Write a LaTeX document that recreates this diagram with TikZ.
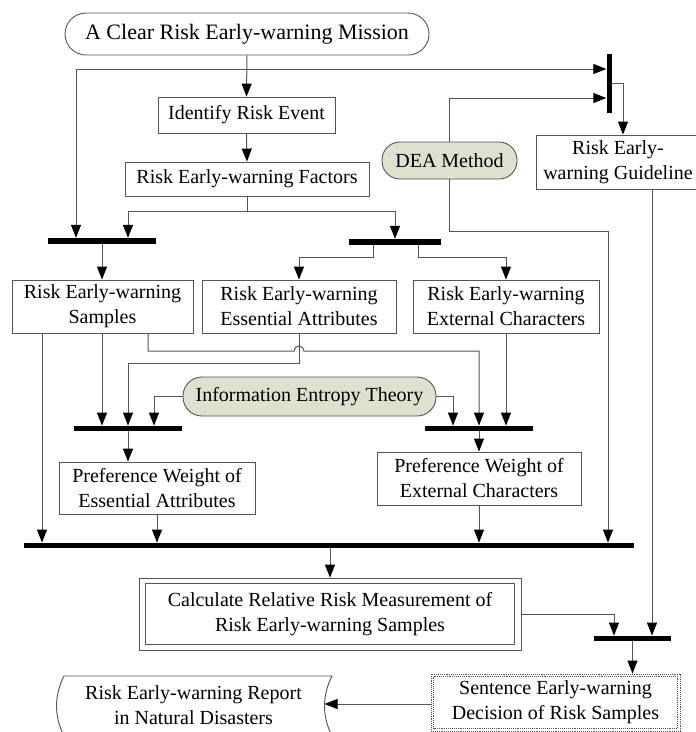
\documentclass[tikz,border=0pt]{standalone}
\usepackage{fontspec}
\setmainfont{Liberation Serif}
\usetikzlibrary{arrows.meta}
\definecolor{sage}{RGB}{221,225,205}
\definecolor{lc}{RGB}{85,85,85}
\begin{document}
\begin{tikzpicture}[x=1pt,y=-1pt,
  txt/.style={font=\fontsize{20}{25}\selectfont, align=center, inner sep=0pt},
  box/.style={txt, draw=lc, line width=0.9pt, fill=white},
  pill/.style={txt, draw=lc, line width=0.9pt, fill=sage},
  bar/.style={fill=black, inner sep=0pt, draw=none},
  ln/.style={draw=lc, line width=1pt},
  arr/.style={ln, -{Triangle[length=13pt,width=10pt,color=black]}}]
\useasboundingbox (0,0) rectangle (696,732);
\clip (0,0) rectangle (696,732);
\fill[white] (0,0) rectangle (696,732);

% nodes
\node[box, font=\fontsize{22}{26}\selectfont, rounded corners=21pt, minimum width=364pt, minimum height=42pt] (title) at (247,34) {A Clear Risk Early-warning Mission};
\node[box, minimum width=177pt, minimum height=36pt] (identify) at (246.5,115) {Identify Risk Event};
\node[box, minimum width=244pt, minimum height=34pt] (factors) at (247,179) {Risk Early-warning Factors};
\node[pill, rounded corners=18pt, minimum width=135pt, minimum height=37pt] (dea) at (449.5,160.5) {DEA Method};
\node[box, minimum width=174pt, minimum height=54pt] (guide) at (623,162) {};
\node[txt] (guidetxt) at (618,162) {Risk Early-\\warning Guideline};
\node[box, minimum width=181pt, minimum height=53pt] (samples) at (102.5,306.5) {Risk Early-warning\\Samples};
\node[box, minimum width=194pt, minimum height=53pt] (ess) at (299,306.5) {Risk Early-warning\\Essential Attributes};
\node[box, minimum width=186pt, minimum height=53pt] (ext) at (506,306.5) {Risk Early-warning\\External Characters};
\node[pill, rounded corners=19pt, minimum width=253pt, minimum height=39pt] (info) at (309.5,396.5) {Information Entropy Theory};
\node[box, minimum width=196pt, minimum height=52pt] (prefE) at (157,488) {Preference Weight of\\Essential Attributes};
\node[box, minimum width=204pt, minimum height=53pt] (prefX) at (479,478.5) {Preference Weight of\\External Characters};
\node[box, minimum width=382pt, minimum height=72pt] (calc) at (330,614) {Calculate Relative Risk Measurement of\\Risk Early-warning Samples};
\draw[lc, line width=0.9pt] ([shift={(7,6)}]calc.north west) rectangle ([shift={(-7,-6)}]calc.south east);
\node[box, densely dotted, minimum width=249pt, minimum height=57pt] (sent) at (555.5,702.5) {Sentence Early-warning\\Decision of Risk Samples};
\draw[lc, line width=0.9pt, densely dotted] ([shift={(3,3)}]sent.north west) rectangle ([shift={(-3,-3)}]sent.south east);
\node[txt, minimum width=266pt, minimum height=58pt] (report) at (193.5,705) {Risk Early-warning Report\\in Natural Disasters};
\draw[lc, line width=0.9pt] (64,676) -- (332,676) .. controls (322,696) and (322,716) .. (332,736) -- (64,736) .. controls (54,716) and (54,696) .. (64,676) -- cycle;
\coordinate (repR) at (324.5,704);

% bars
\node[bar, minimum width=108pt, minimum height=6pt] (bar1) at (102,241) {};
\node[bar, minimum width=92pt, minimum height=6pt] (bar2) at (395,242) {};
\node[bar, minimum width=5pt, minimum height=59pt] (barV) at (609,83.5) {};
\node[bar, minimum width=108pt, minimum height=5.5pt] (bar3) at (128,428.5) {};
\node[bar, minimum width=108pt, minimum height=5.5pt] (barR) at (479,428.5) {};
\node[bar, minimum width=610pt, minimum height=5.5pt] (bigbar) at (329,545.5) {};
\node[bar, minimum width=77pt, minimum height=5.5pt] (bar4) at (632.5,638.5) {};

% helper coordinates
\coordinate (jt) at (247,69);
\coordinate (jf) at (247,211);
\coordinate (deaTop) at (449.5,98);
\coordinate (h1) at (294,351);

% connectors
\draw[arr] (title.south) -- (identify.north);
\draw[arr] (jt) -| ([xshift=-26pt]bar1.north);
\draw[arr] (jt) -- (barV.west |- jt);
\draw[arr] (identify.south) -- (factors.north);
\draw[ln] (factors.south) -- (jf);
\draw[arr] (jf) -| ([xshift=26pt]bar1.north);
\draw[arr] (jf) -| (bar2.north);
\draw[arr] (dea.north) -- (deaTop) -- (barV.west |- deaTop);
\draw[arr] (barV.east) -| (guide.north);
\draw[arr] (bar1.south) -- (bar1.south |- samples.north);
\draw[arr] ([xshift=-22pt]bar2.south) -- ++(0,12) -| (ess.north);
\draw[arr] ([xshift=23pt]bar2.south) -- ++(0,12) -| (ext.north);
\draw[arr] ([xshift=-60.5pt]samples.south) coordinate (s1) -- (s1 |- bigbar.north);
\draw[arr] ([xshift=-0.5pt]samples.south) coordinate (s2) -- (s2 |- bar3.north);
\draw[arr] ([xshift=45.5pt]samples.south) |- (h1) arc[start angle=180, end angle=0, radius=5pt] -| (barR.north);
\draw[arr] (ess.south) -- ++(0,30) -| (bar3.north);
\draw[arr] (info.west) -| ([xshift=26pt]bar3.north);
\draw[arr] (info.east) -| ([xshift=-26pt]barR.north);
\draw[arr] (ext.south) -- (ext.south |- barR.north);
\draw[arr] (bar3.south) -- (bar3.south |- prefE.north);
\draw[arr] (barR.south) -- (prefX.north);
\draw[arr] (prefE.south) -- (prefE.south |- bigbar.north);
\draw[arr] (prefX.south) -- (prefX.south |- bigbar.north);
\draw[arr] (dea.south) -- ++(0,52) -| ([xshift=279pt]bigbar.north);
\draw[arr] ([xshift=29pt]guide.south) coordinate (g1) -- (g1 |- bar4.north);
\draw[arr] (calc.north |- bigbar.south) -- (calc.north);
\draw[arr] (calc.east) -| ([xshift=-18.5pt]bar4.north);
\draw[arr] (bar4.south) -- (bar4.south |- sent.north);
\draw[arr] (sent.west |- repR) -- (repR);
\end{tikzpicture}
\end{document}
